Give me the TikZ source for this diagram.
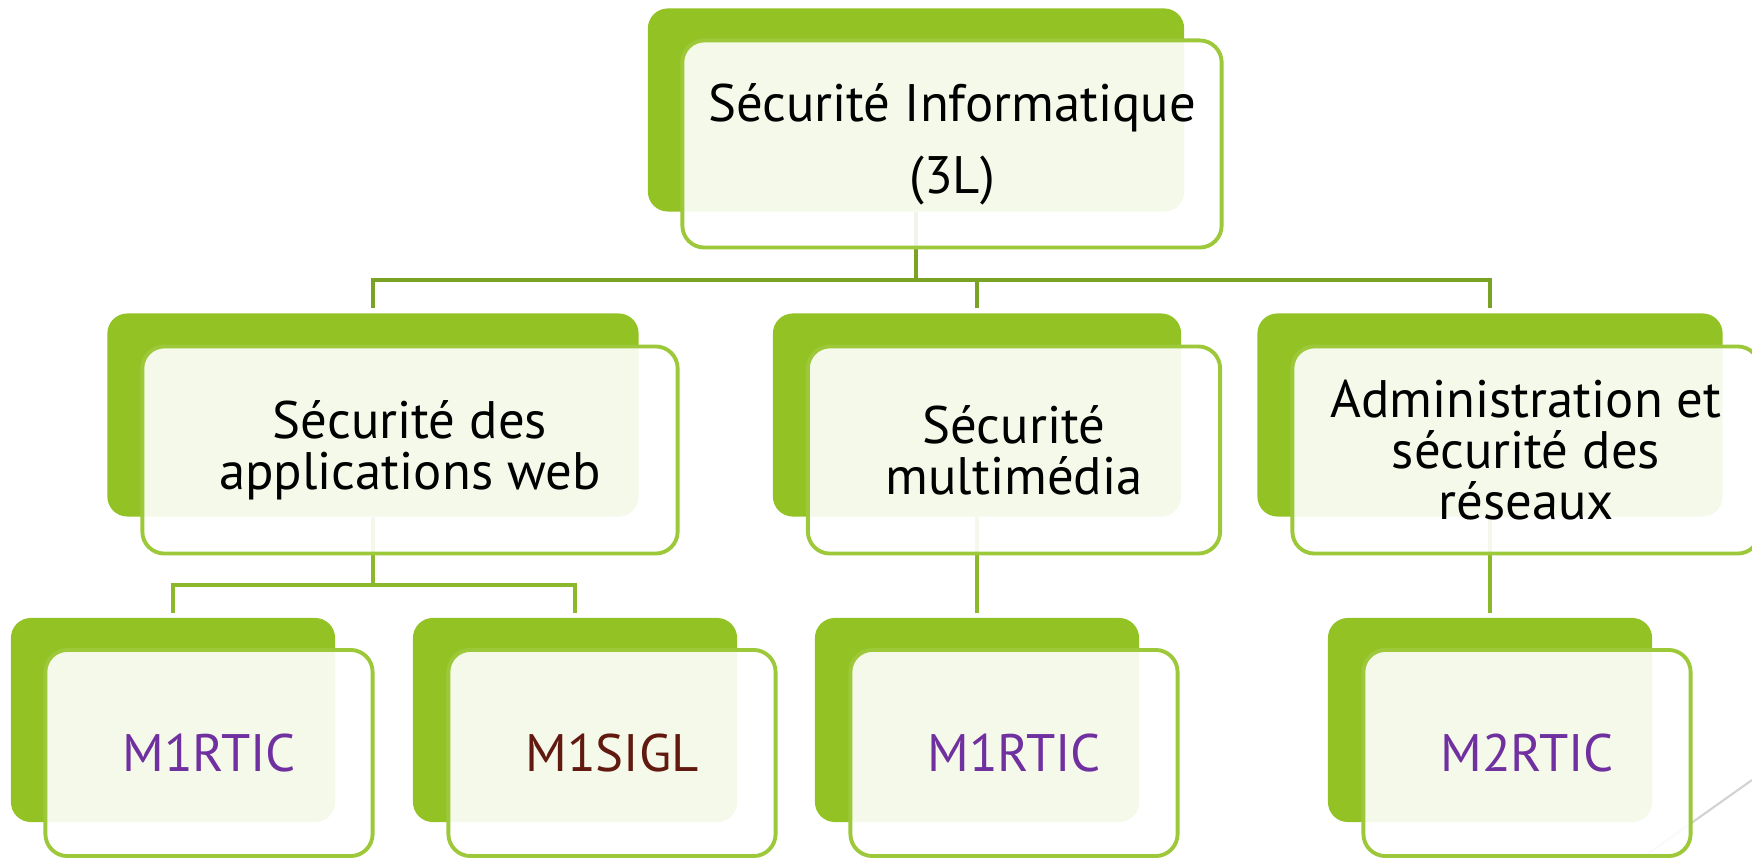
\documentclass[tikz,border=0pt]{standalone}
\usepackage{fontspec}
\setmainfont{PT Sans}
\usetikzlibrary{backgrounds}
\definecolor{leaf}{HTML}{93C225}
\definecolor{leafline}{HTML}{9CC83A}
\definecolor{stem}{HTML}{7AA326}
\definecolor{twig}{HTML}{8CB92B}
\definecolor{rticviolet}{HTML}{7030A0}
\definecolor{siglbrown}{HTML}{621A10}
\begin{document}
\begin{tikzpicture}[x=0.01cm, y=-0.01cm,
back node/.style={rectangle,rounded corners=0.2cm,fill=leaf,minimum height=2.03cm,inner sep=0pt,outer sep=0pt},
front node/.style={rectangle,rounded corners=0.22cm,draw=leafline,line width=1.1pt,fill=white,fill opacity=0.9,text opacity=1,minimum height=2.07cm,inner sep=0pt,align=center,font=\fontsize{15}{14.5}\selectfont},
link/.style={draw=stem,line width=1.1pt,shorten >=1.5pt},
small link/.style={link,draw=twig,line width=1pt}]
\clip (0,0) rectangle (1752,858);
\begin{scope}[every node/.style={back node}]
\node[minimum width=5.36cm] (root) at (916,110) {};
\node[minimum width=5.31cm] (web) at (373,415) {};
\node[minimum width=4.08cm] (multi) at (977,415) {};
\node[minimum width=4.65cm] (admin) at (1490,415) {};
\node[minimum width=3.24cm,minimum height=2.04cm] (rtic1) at (173,720) {};
\node[minimum width=3.24cm,minimum height=2.04cm] (sigl) at (575,720) {};
\node[minimum width=3.24cm,minimum height=2.04cm] (rtic2) at (977,720) {};
\node[minimum width=3.24cm,minimum height=2.04cm] (rtic3) at (1490,720) {};
\end{scope}
\begin{scope}[every node/.style={front node}]
\node[minimum width=5.39cm] (root f) at (952,144) {Sécurité Informatique\\[6pt](3L)};
\node[minimum width=5.35cm] (web f) at (410,450) {Sécurité des\\applications web};
\node[minimum width=4.12cm] (multi f) at (1014,450) {Sécurité\\multimédia};
\node[minimum width=4.67cm] (admin f) at (1526,450) {Administration et\\sécurité des\\réseaux};
\node[minimum width=3.27cm,minimum height=2.06cm,text=rticviolet] (rtic1 f) at (209,753) {M1RTIC};
\node[minimum width=3.27cm,minimum height=2.06cm,text=siglbrown] (sigl f) at (612,753) {M1SIGL};
\node[minimum width=3.27cm,minimum height=2.06cm,text=rticviolet] (rtic2 f) at (1014,753) {M1RTIC};
\node[minimum width=3.27cm,minimum height=2.06cm,text=rticviolet] (rtic3 f) at (1527,753) {M2RTIC};
\end{scope}
\begin{scope}[on background layer]
\coordinate (deco a) at (1642,858);
\coordinate (deco b) at (1752,780);
\draw[gray!35,line width=0.6pt] (deco a) -- (deco b);
\coordinate (bar1) at (916,280);
\coordinate (bar2) at (373,585);
\draw[link] (root.south) -- (bar1) -| (web.north);
\draw[link] (bar1) -| (multi.north);
\draw[link] (bar1) -| (admin.north);
\draw[small link] (web.south) -- (bar2) -| (rtic1.north);
\draw[small link] (bar2) -| (sigl.north);
\draw[small link] (multi.south) -- (rtic2.north);
\draw[small link] (admin.south) -- (rtic3.north);
\end{scope}
\end{tikzpicture}
\end{document}
